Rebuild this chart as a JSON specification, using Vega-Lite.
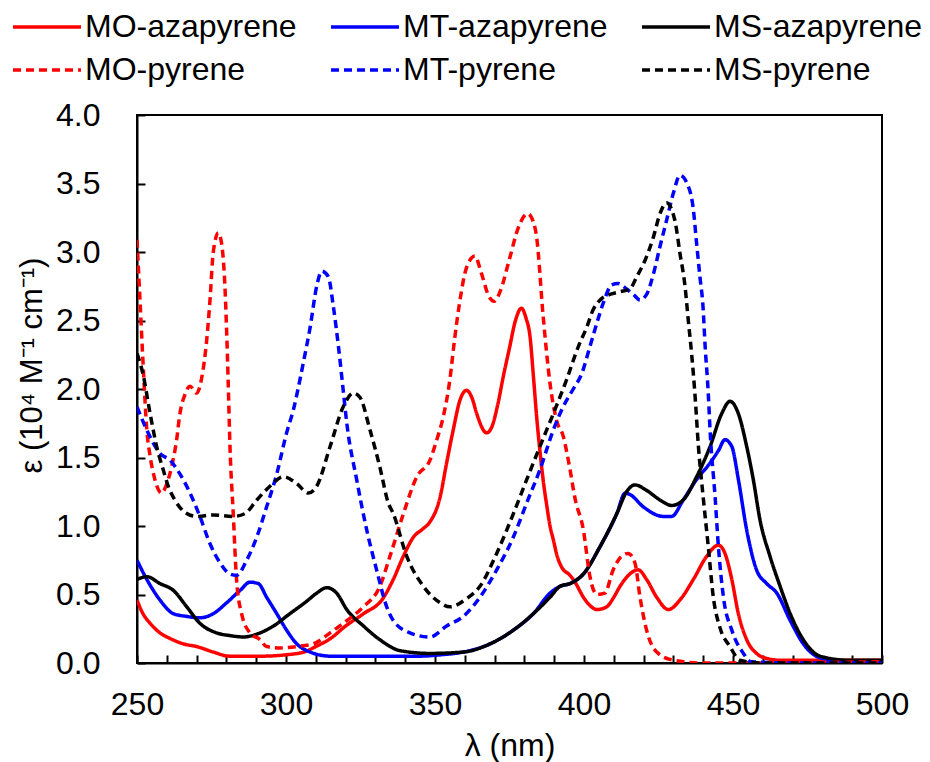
{
"$schema": "https://vega.github.io/schema/vega-lite/v6.json",
"width": 745, "height": 548,
"autosize": {"type": "none"},
"padding": {"left": 137, "top": 115, "right": 48, "bottom": 99},
"background": "white",
"config": {"view": {"stroke": "black", "strokeWidth": 2}, "font": "Liberation Sans"},
"datasets": {
"d": [
{"s":"MO-azapyrene","x":250,"y":0.46},{"s":"MO-azapyrene","x":252,"y":0.36},{"s":"MO-azapyrene","x":254.4,"y":0.29},{"s":"MO-azapyrene","x":257.7,"y":0.22},{"s":"MO-azapyrene","x":261,"y":0.18},{"s":"MO-azapyrene","x":265.5,"y":0.14},{"s":"MO-azapyrene","x":270,"y":0.12},{"s":"MO-azapyrene","x":275.6,"y":0.08},{"s":"MO-azapyrene","x":281,"y":0.05},{"s":"MO-azapyrene","x":292,"y":0.05},{"s":"MO-azapyrene","x":300,"y":0.06},{"s":"MO-azapyrene","x":306,"y":0.08},{"s":"MO-azapyrene","x":310,"y":0.12},{"s":"MO-azapyrene","x":315,"y":0.18},{"s":"MO-azapyrene","x":320,"y":0.27},{"s":"MO-azapyrene","x":326,"y":0.36},{"s":"MO-azapyrene","x":332.5,"y":0.47},{"s":"MO-azapyrene","x":336,"y":0.61},{"s":"MO-azapyrene","x":339.4,"y":0.78},{"s":"MO-azapyrene","x":342.8,"y":0.92},{"s":"MO-azapyrene","x":346,"y":0.98},{"s":"MO-azapyrene","x":348.3,"y":1.03},{"s":"MO-azapyrene","x":351.7,"y":1.21},{"s":"MO-azapyrene","x":353.9,"y":1.46},{"s":"MO-azapyrene","x":356.1,"y":1.7},{"s":"MO-azapyrene","x":358.4,"y":1.92},{"s":"MO-azapyrene","x":360.6,"y":1.99},{"s":"MO-azapyrene","x":362.5,"y":1.93},{"s":"MO-azapyrene","x":364,"y":1.82},{"s":"MO-azapyrene","x":367.3,"y":1.68},{"s":"MO-azapyrene","x":369,"y":1.72},{"s":"MO-azapyrene","x":371,"y":1.88},{"s":"MO-azapyrene","x":373,"y":2.1},{"s":"MO-azapyrene","x":375,"y":2.3},{"s":"MO-azapyrene","x":377,"y":2.5},{"s":"MO-azapyrene","x":379,"y":2.59},{"s":"MO-azapyrene","x":380.5,"y":2.52},{"s":"MO-azapyrene","x":381.9,"y":2.38},{"s":"MO-azapyrene","x":383,"y":2.1},{"s":"MO-azapyrene","x":384.1,"y":1.8},{"s":"MO-azapyrene","x":385.2,"y":1.55},{"s":"MO-azapyrene","x":386.5,"y":1.3},{"s":"MO-azapyrene","x":387.5,"y":1.15},{"s":"MO-azapyrene","x":388.6,"y":1.0},{"s":"MO-azapyrene","x":389.7,"y":0.9},{"s":"MO-azapyrene","x":391,"y":0.78},{"s":"MO-azapyrene","x":392.5,"y":0.7},{"s":"MO-azapyrene","x":395.3,"y":0.64},{"s":"MO-azapyrene","x":397,"y":0.59},{"s":"MO-azapyrene","x":399.8,"y":0.48},{"s":"MO-azapyrene","x":402,"y":0.42},{"s":"MO-azapyrene","x":404.3,"y":0.39},{"s":"MO-azapyrene","x":407.6,"y":0.41},{"s":"MO-azapyrene","x":410,"y":0.48},{"s":"MO-azapyrene","x":412.1,"y":0.56},{"s":"MO-azapyrene","x":415.4,"y":0.65},{"s":"MO-azapyrene","x":418.2,"y":0.68},{"s":"MO-azapyrene","x":421,"y":0.61},{"s":"MO-azapyrene","x":424.4,"y":0.48},{"s":"MO-azapyrene","x":428.3,"y":0.39},{"s":"MO-azapyrene","x":432.2,"y":0.46},{"s":"MO-azapyrene","x":436.7,"y":0.61},{"s":"MO-azapyrene","x":441.2,"y":0.78},{"s":"MO-azapyrene","x":445.1,"y":0.86},{"s":"MO-azapyrene","x":447.3,"y":0.8},{"s":"MO-azapyrene","x":449.6,"y":0.61},{"s":"MO-azapyrene","x":451.8,"y":0.36},{"s":"MO-azapyrene","x":454.6,"y":0.17},{"s":"MO-azapyrene","x":457.9,"y":0.07},{"s":"MO-azapyrene","x":462,"y":0.03},{"s":"MO-azapyrene","x":466,"y":0.02},{"s":"MO-azapyrene","x":480,"y":0.02},{"s":"MO-azapyrene","x":500,"y":0.02},

{"s":"MT-azapyrene","x":250,"y":0.75},{"s":"MT-azapyrene","x":253.3,"y":0.61},{"s":"MT-azapyrene","x":257.7,"y":0.46},{"s":"MT-azapyrene","x":262.2,"y":0.36},{"s":"MT-azapyrene","x":266.7,"y":0.34},{"s":"MT-azapyrene","x":271.1,"y":0.33},{"s":"MT-azapyrene","x":275.6,"y":0.36},{"s":"MT-azapyrene","x":280.1,"y":0.44},{"s":"MT-azapyrene","x":284.6,"y":0.53},{"s":"MT-azapyrene","x":287.9,"y":0.59},{"s":"MT-azapyrene","x":290.7,"y":0.58},{"s":"MT-azapyrene","x":293.5,"y":0.48},{"s":"MT-azapyrene","x":296.9,"y":0.36},{"s":"MT-azapyrene","x":300.2,"y":0.24},{"s":"MT-azapyrene","x":303.6,"y":0.14},{"s":"MT-azapyrene","x":308.1,"y":0.08},{"s":"MT-azapyrene","x":314.8,"y":0.05},{"s":"MT-azapyrene","x":330,"y":0.05},{"s":"MT-azapyrene","x":345,"y":0.05},{"s":"MT-azapyrene","x":352,"y":0.06},{"s":"MT-azapyrene","x":359.5,"y":0.08},{"s":"MT-azapyrene","x":368.5,"y":0.14},{"s":"MT-azapyrene","x":376.3,"y":0.24},{"s":"MT-azapyrene","x":383,"y":0.36},{"s":"MT-azapyrene","x":388.6,"y":0.51},{"s":"MT-azapyrene","x":392,"y":0.56},{"s":"MT-azapyrene","x":395.3,"y":0.58},{"s":"MT-azapyrene","x":399.8,"y":0.65},{"s":"MT-azapyrene","x":405.4,"y":0.85},{"s":"MT-azapyrene","x":411,"y":1.09},{"s":"MT-azapyrene","x":413.8,"y":1.24},{"s":"MT-azapyrene","x":415.4,"y":1.23},{"s":"MT-azapyrene","x":419.9,"y":1.14},{"s":"MT-azapyrene","x":426.6,"y":1.07},{"s":"MT-azapyrene","x":429.4,"y":1.07},{"s":"MT-azapyrene","x":433.3,"y":1.19},{"s":"MT-azapyrene","x":437.8,"y":1.34},{"s":"MT-azapyrene","x":442.3,"y":1.46},{"s":"MT-azapyrene","x":445.1,"y":1.55},{"s":"MT-azapyrene","x":447.3,"y":1.63},{"s":"MT-azapyrene","x":449.6,"y":1.58},{"s":"MT-azapyrene","x":451.8,"y":1.34},{"s":"MT-azapyrene","x":454.6,"y":0.97},{"s":"MT-azapyrene","x":457.9,"y":0.68},{"s":"MT-azapyrene","x":461.3,"y":0.58},{"s":"MT-azapyrene","x":464.7,"y":0.51},{"s":"MT-azapyrene","x":469.2,"y":0.31},{"s":"MT-azapyrene","x":473.6,"y":0.14},{"s":"MT-azapyrene","x":479,"y":0.04},{"s":"MT-azapyrene","x":485,"y":0.02},{"s":"MT-azapyrene","x":500,"y":0.01},

{"s":"MS-azapyrene","x":250,"y":0.61},{"s":"MS-azapyrene","x":253.3,"y":0.63},{"s":"MS-azapyrene","x":257.7,"y":0.58},{"s":"MS-azapyrene","x":262.2,"y":0.53},{"s":"MS-azapyrene","x":266.7,"y":0.41},{"s":"MS-azapyrene","x":271.1,"y":0.29},{"s":"MS-azapyrene","x":276.7,"y":0.22},{"s":"MS-azapyrene","x":281.2,"y":0.2},{"s":"MS-azapyrene","x":285.7,"y":0.19},{"s":"MS-azapyrene","x":291.3,"y":0.22},{"s":"MS-azapyrene","x":295.8,"y":0.27},{"s":"MS-azapyrene","x":301.3,"y":0.36},{"s":"MS-azapyrene","x":306.9,"y":0.45},{"s":"MS-azapyrene","x":310.3,"y":0.51},{"s":"MS-azapyrene","x":313.7,"y":0.55},{"s":"MS-azapyrene","x":317,"y":0.51},{"s":"MS-azapyrene","x":320.4,"y":0.39},{"s":"MS-azapyrene","x":326,"y":0.27},{"s":"MS-azapyrene","x":331.5,"y":0.17},{"s":"MS-azapyrene","x":338.3,"y":0.09},{"s":"MS-azapyrene","x":348.3,"y":0.07},{"s":"MS-azapyrene","x":359.5,"y":0.08},{"s":"MS-azapyrene","x":368.5,"y":0.14},{"s":"MS-azapyrene","x":376.3,"y":0.24},{"s":"MS-azapyrene","x":383,"y":0.36},{"s":"MS-azapyrene","x":388.6,"y":0.48},{"s":"MS-azapyrene","x":392,"y":0.56},{"s":"MS-azapyrene","x":395.3,"y":0.58},{"s":"MS-azapyrene","x":399.8,"y":0.65},{"s":"MS-azapyrene","x":405.4,"y":0.85},{"s":"MS-azapyrene","x":411,"y":1.09},{"s":"MS-azapyrene","x":414.3,"y":1.25},{"s":"MS-azapyrene","x":417.1,"y":1.3},{"s":"MS-azapyrene","x":421,"y":1.26},{"s":"MS-azapyrene","x":425.5,"y":1.19},{"s":"MS-azapyrene","x":429.4,"y":1.15},{"s":"MS-azapyrene","x":433.3,"y":1.19},{"s":"MS-azapyrene","x":437.8,"y":1.36},{"s":"MS-azapyrene","x":442.3,"y":1.58},{"s":"MS-azapyrene","x":446.2,"y":1.82},{"s":"MS-azapyrene","x":449,"y":1.91},{"s":"MS-azapyrene","x":451.8,"y":1.82},{"s":"MS-azapyrene","x":454.6,"y":1.58},{"s":"MS-azapyrene","x":456.8,"y":1.34},{"s":"MS-azapyrene","x":459.1,"y":1.04},{"s":"MS-azapyrene","x":462.4,"y":0.78},{"s":"MS-azapyrene","x":465.8,"y":0.56},{"s":"MS-azapyrene","x":469.2,"y":0.36},{"s":"MS-azapyrene","x":473.6,"y":0.17},{"s":"MS-azapyrene","x":479.2,"y":0.05},{"s":"MS-azapyrene","x":489,"y":0.02},{"s":"MS-azapyrene","x":500,"y":0.02},

{"s":"MO-pyrene","x":250,"y":3.09},{"s":"MO-pyrene","x":251,"y":2.65},{"s":"MO-pyrene","x":252.1,"y":2.16},{"s":"MO-pyrene","x":253.3,"y":1.7},{"s":"MO-pyrene","x":254.4,"y":1.51},{"s":"MO-pyrene","x":256,"y":1.34},{"s":"MO-pyrene","x":258.3,"y":1.24},{"s":"MO-pyrene","x":260,"y":1.31},{"s":"MO-pyrene","x":261.6,"y":1.43},{"s":"MO-pyrene","x":263.3,"y":1.63},{"s":"MO-pyrene","x":264.4,"y":1.82},{"s":"MO-pyrene","x":266.1,"y":1.96},{"s":"MO-pyrene","x":267.8,"y":2.02},{"s":"MO-pyrene","x":270,"y":1.97},{"s":"MO-pyrene","x":271.7,"y":2.08},{"s":"MO-pyrene","x":273.4,"y":2.36},{"s":"MO-pyrene","x":274.5,"y":2.65},{"s":"MO-pyrene","x":275.6,"y":3.0},{"s":"MO-pyrene","x":277.3,"y":3.14},{"s":"MO-pyrene","x":278.4,"y":3.06},{"s":"MO-pyrene","x":279.5,"y":2.75},{"s":"MO-pyrene","x":280.1,"y":2.41},{"s":"MO-pyrene","x":280.6,"y":2.05},{"s":"MO-pyrene","x":281.2,"y":1.58},{"s":"MO-pyrene","x":282.3,"y":1.09},{"s":"MO-pyrene","x":283.4,"y":0.61},{"s":"MO-pyrene","x":285.1,"y":0.36},{"s":"MO-pyrene","x":287.9,"y":0.22},{"s":"MO-pyrene","x":291.3,"y":0.17},{"s":"MO-pyrene","x":293.5,"y":0.12},{"s":"MO-pyrene","x":298,"y":0.11},{"s":"MO-pyrene","x":303.6,"y":0.12},{"s":"MO-pyrene","x":309.2,"y":0.14},{"s":"MO-pyrene","x":314.8,"y":0.22},{"s":"MO-pyrene","x":320.4,"y":0.31},{"s":"MO-pyrene","x":326,"y":0.41},{"s":"MO-pyrene","x":331.5,"y":0.56},{"s":"MO-pyrene","x":334.9,"y":0.78},{"s":"MO-pyrene","x":339.4,"y":1.09},{"s":"MO-pyrene","x":343.9,"y":1.36},{"s":"MO-pyrene","x":348.3,"y":1.48},{"s":"MO-pyrene","x":350.6,"y":1.63},{"s":"MO-pyrene","x":352.8,"y":1.8},{"s":"MO-pyrene","x":355,"y":2.07},{"s":"MO-pyrene","x":356.5,"y":2.35},{"s":"MO-pyrene","x":358.4,"y":2.65},{"s":"MO-pyrene","x":360.5,"y":2.88},{"s":"MO-pyrene","x":363.4,"y":2.97},{"s":"MO-pyrene","x":365.5,"y":2.85},{"s":"MO-pyrene","x":368,"y":2.68},{"s":"MO-pyrene","x":369.9,"y":2.64},{"s":"MO-pyrene","x":372,"y":2.72},{"s":"MO-pyrene","x":375,"y":2.95},{"s":"MO-pyrene","x":378,"y":3.18},{"s":"MO-pyrene","x":381.1,"y":3.28},{"s":"MO-pyrene","x":383,"y":3.22},{"s":"MO-pyrene","x":384.1,"y":3.11},{"s":"MO-pyrene","x":386.3,"y":2.53},{"s":"MO-pyrene","x":388.6,"y":2.04},{"s":"MO-pyrene","x":390.8,"y":1.77},{"s":"MO-pyrene","x":393.1,"y":1.65},{"s":"MO-pyrene","x":395,"y":1.45},{"s":"MO-pyrene","x":397,"y":1.2},{"s":"MO-pyrene","x":399.8,"y":0.97},{"s":"MO-pyrene","x":402,"y":0.63},{"s":"MO-pyrene","x":404.3,"y":0.5},{"s":"MO-pyrene","x":407,"y":0.51},{"s":"MO-pyrene","x":409.8,"y":0.68},{"s":"MO-pyrene","x":412.6,"y":0.78},{"s":"MO-pyrene","x":414.8,"y":0.8},{"s":"MO-pyrene","x":417.1,"y":0.73},{"s":"MO-pyrene","x":418.8,"y":0.48},{"s":"MO-pyrene","x":421,"y":0.24},{"s":"MO-pyrene","x":424.4,"y":0.08},{"s":"MO-pyrene","x":430,"y":0.02},{"s":"MO-pyrene","x":440,"y":0.0},{"s":"MO-pyrene","x":460,"y":0.0},{"s":"MO-pyrene","x":500,"y":0.01},

{"s":"MT-pyrene","x":250,"y":1.87},{"s":"MT-pyrene","x":253.3,"y":1.7},{"s":"MT-pyrene","x":257.7,"y":1.53},{"s":"MT-pyrene","x":261.1,"y":1.48},{"s":"MT-pyrene","x":264.4,"y":1.38},{"s":"MT-pyrene","x":267.8,"y":1.24},{"s":"MT-pyrene","x":271.1,"y":1.07},{"s":"MT-pyrene","x":274.5,"y":0.87},{"s":"MT-pyrene","x":277.9,"y":0.73},{"s":"MT-pyrene","x":281.2,"y":0.65},{"s":"MT-pyrene","x":283.4,"y":0.64},{"s":"MT-pyrene","x":286.8,"y":0.75},{"s":"MT-pyrene","x":290.2,"y":0.92},{"s":"MT-pyrene","x":293.5,"y":1.14},{"s":"MT-pyrene","x":296.9,"y":1.38},{"s":"MT-pyrene","x":300.2,"y":1.68},{"s":"MT-pyrene","x":302.5,"y":1.85},{"s":"MT-pyrene","x":304.7,"y":2.07},{"s":"MT-pyrene","x":305.8,"y":2.19},{"s":"MT-pyrene","x":308.1,"y":2.45},{"s":"MT-pyrene","x":310.3,"y":2.75},{"s":"MT-pyrene","x":312,"y":2.86},{"s":"MT-pyrene","x":314.2,"y":2.82},{"s":"MT-pyrene","x":315.9,"y":2.6},{"s":"MT-pyrene","x":317.6,"y":2.31},{"s":"MT-pyrene","x":319.2,"y":1.99},{"s":"MT-pyrene","x":320.4,"y":1.75},{"s":"MT-pyrene","x":323.7,"y":1.34},{"s":"MT-pyrene","x":327.1,"y":0.97},{"s":"MT-pyrene","x":330.4,"y":0.68},{"s":"MT-pyrene","x":333.8,"y":0.41},{"s":"MT-pyrene","x":336,"y":0.31},{"s":"MT-pyrene","x":341.6,"y":0.22},{"s":"MT-pyrene","x":348.3,"y":0.19},{"s":"MT-pyrene","x":353.9,"y":0.27},{"s":"MT-pyrene","x":359.5,"y":0.34},{"s":"MT-pyrene","x":365.1,"y":0.48},{"s":"MT-pyrene","x":370.7,"y":0.68},{"s":"MT-pyrene","x":376.3,"y":0.92},{"s":"MT-pyrene","x":380.8,"y":1.17},{"s":"MT-pyrene","x":385.2,"y":1.41},{"s":"MT-pyrene","x":389.7,"y":1.7},{"s":"MT-pyrene","x":393,"y":1.87},{"s":"MT-pyrene","x":396.4,"y":2.0},{"s":"MT-pyrene","x":399.2,"y":2.11},{"s":"MT-pyrene","x":402,"y":2.31},{"s":"MT-pyrene","x":404.3,"y":2.48},{"s":"MT-pyrene","x":406.5,"y":2.63},{"s":"MT-pyrene","x":409.3,"y":2.76},{"s":"MT-pyrene","x":411.5,"y":2.77},{"s":"MT-pyrene","x":414.3,"y":2.73},{"s":"MT-pyrene","x":416.6,"y":2.69},{"s":"MT-pyrene","x":418.8,"y":2.65},{"s":"MT-pyrene","x":421,"y":2.69},{"s":"MT-pyrene","x":423.3,"y":2.84},{"s":"MT-pyrene","x":425.5,"y":3.04},{"s":"MT-pyrene","x":427.7,"y":3.23},{"s":"MT-pyrene","x":430,"y":3.43},{"s":"MT-pyrene","x":432.2,"y":3.56},{"s":"MT-pyrene","x":435,"y":3.48},{"s":"MT-pyrene","x":436.7,"y":3.31},{"s":"MT-pyrene","x":437.8,"y":3.06},{"s":"MT-pyrene","x":438.9,"y":2.82},{"s":"MT-pyrene","x":440,"y":2.58},{"s":"MT-pyrene","x":440.6,"y":2.33},{"s":"MT-pyrene","x":441.7,"y":1.97},{"s":"MT-pyrene","x":442.3,"y":1.7},{"s":"MT-pyrene","x":444,"y":1.21},{"s":"MT-pyrene","x":445.1,"y":0.85},{"s":"MT-pyrene","x":446.8,"y":0.48},{"s":"MT-pyrene","x":449.6,"y":0.24},{"s":"MT-pyrene","x":453.5,"y":0.07},{"s":"MT-pyrene","x":456,"y":0.01},{"s":"MT-pyrene","x":470,"y":0.0},{"s":"MT-pyrene","x":500,"y":0.0},

{"s":"MS-pyrene","x":250,"y":2.26},{"s":"MS-pyrene","x":252,"y":2.11},{"s":"MS-pyrene","x":254.4,"y":1.82},{"s":"MS-pyrene","x":256.6,"y":1.58},{"s":"MS-pyrene","x":258.8,"y":1.41},{"s":"MS-pyrene","x":260.5,"y":1.29},{"s":"MS-pyrene","x":262.7,"y":1.19},{"s":"MS-pyrene","x":266.1,"y":1.1},{"s":"MS-pyrene","x":270,"y":1.07},{"s":"MS-pyrene","x":275.6,"y":1.08},{"s":"MS-pyrene","x":282.3,"y":1.07},{"s":"MS-pyrene","x":286.2,"y":1.09},{"s":"MS-pyrene","x":290.2,"y":1.19},{"s":"MS-pyrene","x":294.6,"y":1.29},{"s":"MS-pyrene","x":299.1,"y":1.36},{"s":"MS-pyrene","x":303.6,"y":1.31},{"s":"MS-pyrene","x":307.5,"y":1.24},{"s":"MS-pyrene","x":310.3,"y":1.29},{"s":"MS-pyrene","x":314.8,"y":1.58},{"s":"MS-pyrene","x":319.2,"y":1.87},{"s":"MS-pyrene","x":322.6,"y":1.97},{"s":"MS-pyrene","x":324.8,"y":1.94},{"s":"MS-pyrene","x":328.2,"y":1.7},{"s":"MS-pyrene","x":331.5,"y":1.43},{"s":"MS-pyrene","x":334.3,"y":1.17},{"s":"MS-pyrene","x":336,"y":1.09},{"s":"MS-pyrene","x":340.5,"y":0.78},{"s":"MS-pyrene","x":346.1,"y":0.56},{"s":"MS-pyrene","x":351.7,"y":0.44},{"s":"MS-pyrene","x":355,"y":0.41},{"s":"MS-pyrene","x":360.6,"y":0.47},{"s":"MS-pyrene","x":365.1,"y":0.56},{"s":"MS-pyrene","x":370.7,"y":0.8},{"s":"MS-pyrene","x":376.3,"y":1.09},{"s":"MS-pyrene","x":380.8,"y":1.34},{"s":"MS-pyrene","x":385.2,"y":1.58},{"s":"MS-pyrene","x":389.7,"y":1.82},{"s":"MS-pyrene","x":394.2,"y":2.07},{"s":"MS-pyrene","x":398.1,"y":2.31},{"s":"MS-pyrene","x":400.9,"y":2.45},{"s":"MS-pyrene","x":403.1,"y":2.58},{"s":"MS-pyrene","x":405.4,"y":2.65},{"s":"MS-pyrene","x":408.7,"y":2.69},{"s":"MS-pyrene","x":412.1,"y":2.71},{"s":"MS-pyrene","x":415.4,"y":2.73},{"s":"MS-pyrene","x":417.7,"y":2.82},{"s":"MS-pyrene","x":420.5,"y":2.94},{"s":"MS-pyrene","x":423.3,"y":3.11},{"s":"MS-pyrene","x":425.5,"y":3.28},{"s":"MS-pyrene","x":427.7,"y":3.36},{"s":"MS-pyrene","x":430.5,"y":3.23},{"s":"MS-pyrene","x":432.2,"y":2.99},{"s":"MS-pyrene","x":433.9,"y":2.75},{"s":"MS-pyrene","x":435,"y":2.5},{"s":"MS-pyrene","x":436.1,"y":2.26},{"s":"MS-pyrene","x":437.2,"y":1.97},{"s":"MS-pyrene","x":438.4,"y":1.58},{"s":"MS-pyrene","x":440,"y":1.21},{"s":"MS-pyrene","x":441.7,"y":0.85},{"s":"MS-pyrene","x":443.4,"y":0.48},{"s":"MS-pyrene","x":445.6,"y":0.26},{"s":"MS-pyrene","x":449,"y":0.12},{"s":"MS-pyrene","x":452.3,"y":0.02},{"s":"MS-pyrene","x":460,"y":0.0},{"s":"MS-pyrene","x":500,"y":0.0}
]
},
"data": {"name": "d"},
"mark": {"type": "line", "interpolate": "monotone", "clip": true},
"encoding": {
  "x": {"field": "x", "type": "quantitative",
    "scale": {"domain": [250, 500], "nice": false, "zero": false},
    "axis": {"title": "λ (nm)", "values": [250,260,270,280,290,300,310,320,330,340,350,360,370,380,390,400,410,420,430,440,450,460,470,480,490,500],
      "labelExpr": "datum.value % 50 === 0 ? datum.label : ''", "format": "d",
      "grid": false, "domainColor": "black", "domainWidth": 2, "tickColor": "black", "tickWidth": 2, "tickSize": -8,
      "labelFontSize": 32, "labelColor": "black", "labelFont": "Liberation Sans", "labelPadding": 34, "labelFlush": false, "labelOverlap": false,
      "titleFontSize": 32, "titleFontWeight": "normal", "titleColor": "black", "titleFont": "Liberation Sans", "titlePadding": 10}},
  "y": {"field": "y", "type": "quantitative",
    "scale": {"domain": [0, 4], "nice": false},
    "axis": {"title": "ε (10⁴ M⁻¹ cm⁻¹)", "values": [0,0.5,1,1.5,2,2.5,3,3.5,4], "format": ".1f",
      "grid": false, "domainColor": "black", "domainWidth": 2, "tickColor": "black", "tickWidth": 2, "tickSize": -8,
      "labelFontSize": 32, "labelColor": "black", "labelFont": "Liberation Sans", "labelPadding": 45, "labelFlush": false, "labelOverlap": false,
      "titleFontSize": 31, "titleFontWeight": "normal", "titleColor": "black", "titleFont": "Liberation Sans",
      "titleX": -105, "titleY": 250, "titleAngle": -90, "titleAlign": "center", "titleBaseline": "middle"}},
  "color": {"field": "s", "type": "nominal",
    "scale": {"domain": ["MO-azapyrene","MT-azapyrene","MS-azapyrene","MO-pyrene","MT-pyrene","MS-pyrene"],
              "range": ["#FF0000","#0000FF","#000000","#FF0000","#0000FF","#000000"]},
    "legend": {"title": null, "orient": "none", "legendX": -106, "legendY": -104, "columns": 3, "direction": "horizontal",
      "symbolType": "M-3,0H3", "symbolSize": 514, "symbolStrokeWidth": 3,
      "labelFontSize": 32, "labelFont": "Liberation Sans", "labelColor": "black", "labelLimit": 400, "labelOffset": 22,
      "columnPadding": 26, "rowPadding": 11}},
  "strokeDash": {"field": "s", "type": "nominal",
    "scale": {"domain": ["MO-azapyrene","MT-azapyrene","MS-azapyrene","MO-pyrene","MT-pyrene","MS-pyrene"],
              "range": [[1,0],[1,0],[1,0],[8,5],[8,5],[8,5]]},
    "legend": {"title": null}},
  "strokeWidth": {"field": "s", "type": "nominal",
    "scale": {"domain": ["MO-azapyrene","MT-azapyrene","MS-azapyrene","MO-pyrene","MT-pyrene","MS-pyrene"],
              "range": [3.5,3.5,3.5,2,2,2]},
    "legend": {"title": null}}
}
}
